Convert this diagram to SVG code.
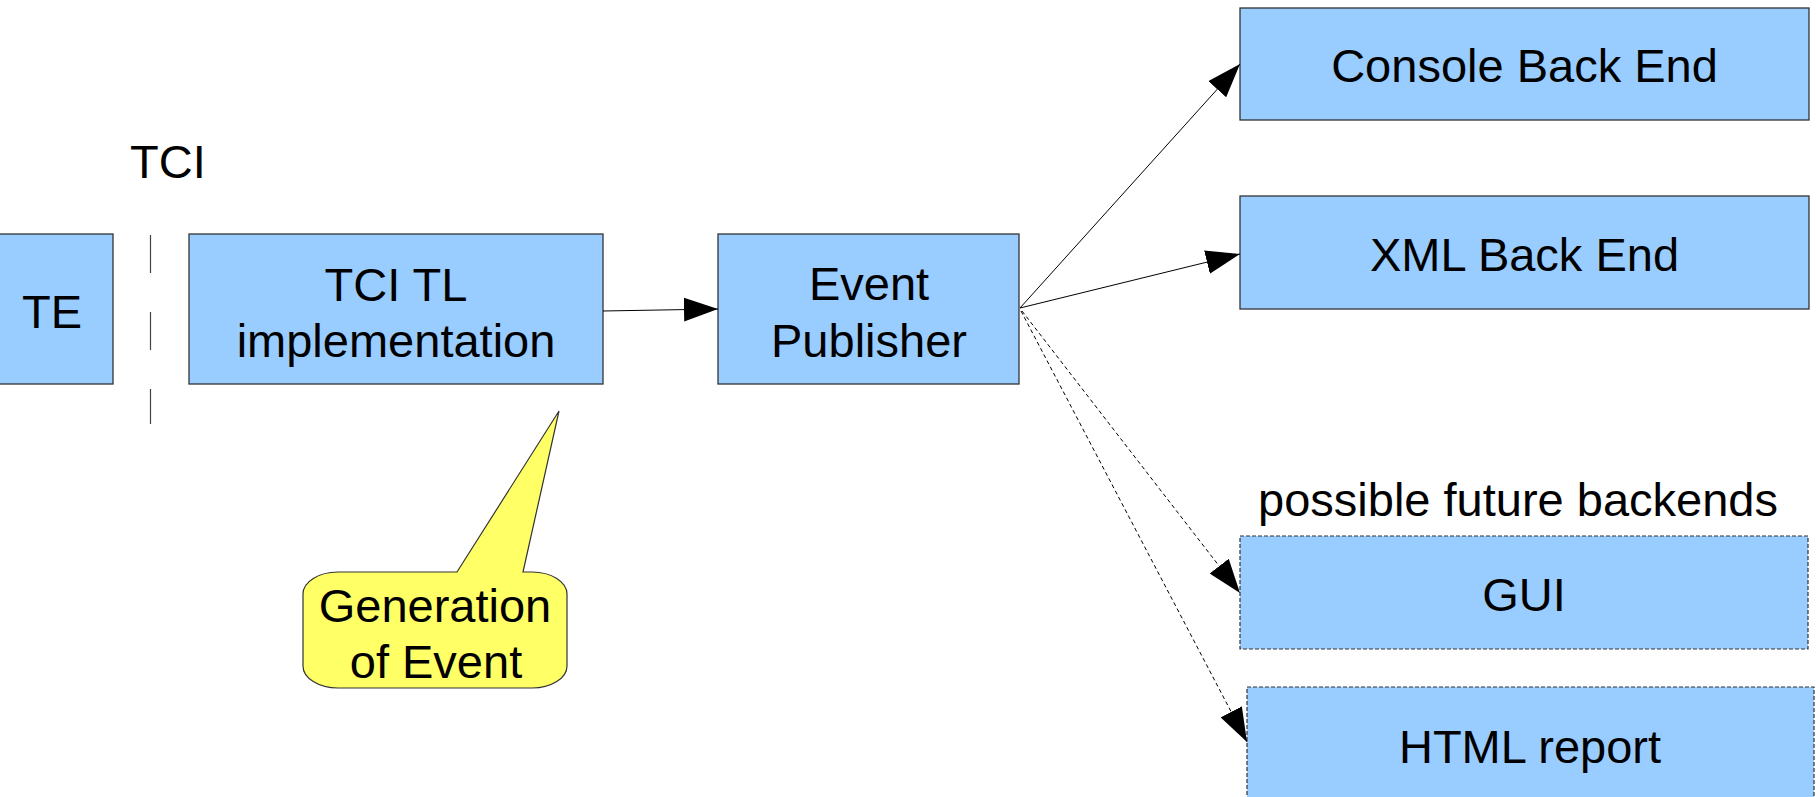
<svg xmlns="http://www.w3.org/2000/svg" width="1816" height="797" viewBox="0 0 1816 797">
<style>
.box{fill:#99ccff;stroke:#333;stroke-width:1.3}
.dbox{fill:#99ccff;stroke:#333;stroke-width:1.2;stroke-dasharray:4 2}
.t{font-family:"Liberation Sans",Arial,sans-serif;font-size:47px;fill:#000;text-anchor:middle}
.c{stroke:#000;stroke-width:1;fill:none}
.d{stroke:#000;stroke-width:1;fill:none;stroke-dasharray:4 3}
</style>
<defs>
<marker id="ah" viewBox="0 0 34 24" refX="34" refY="12" markerWidth="34" markerHeight="24" markerUnits="userSpaceOnUse" orient="auto">
<path d="M0,0 L34,12 L0,24 Z" fill="#000"/>
</marker>
</defs>
<rect width="1816" height="797" fill="#fff"/>
<g id="tci-label"><text class="t" x="130" y="178" style="text-anchor:start">TCI</text></g>
<g id="tci-line"><line x1="150.5" y1="235" x2="150.5" y2="424" stroke="#444" stroke-width="1.2" stroke-dasharray="38 39"/></g>
<g id="te"><rect class="box" x="-2" y="234" width="115" height="150"/><text class="t" x="52" y="328">TE</text></g>
<g id="tcitl"><rect class="box" x="189" y="234" width="414" height="150"/><text class="t" x="396" y="301">TCI TL</text><text class="t" x="396" y="357">implementation</text></g>
<g id="publisher"><rect class="box" x="718" y="234" width="301" height="150"/><text class="t" x="869" y="300">Event</text><text class="t" x="869" y="357">Publisher</text></g>
<g id="console"><rect class="box" x="1240" y="8" width="569" height="112"/><text class="t" x="1524.5" y="82">Console Back End</text></g>
<g id="xml"><rect class="box" x="1240" y="196" width="569" height="113"/><text class="t" x="1524.5" y="271">XML Back End</text></g>
<g id="future-label"><text class="t" x="1518" y="516">possible future backends</text></g>
<g id="gui"><rect class="dbox" x="1240" y="536" width="568" height="113"/><text class="t" x="1524" y="611">GUI</text></g>
<g id="html"><rect class="dbox" x="1247" y="687" width="567" height="120"/><text class="t" x="1530" y="763">HTML report</text></g>
<g id="callout">
<path d="M338,572 L457,572 L559,411 L523,572 L532,572 A35 22 0 0 1 567 594 L567 666 A35 22 0 0 1 532 688 L338 688 A35 22 0 0 1 303 666 L303 594 A35 22 0 0 1 338 572 Z" fill="#ffff66" stroke="#333" stroke-width="1.2"/>
<text class="t" x="435" y="622">Generation</text><text class="t" x="436" y="678">of Event</text>
</g>
<g id="connectors">
<line class="c" x1="603" y1="311" x2="718" y2="309" marker-end="url(#ah)"/>
<line class="c" x1="1020" y1="308" x2="1240" y2="64" marker-end="url(#ah)"/>
<line class="c" x1="1020" y1="308" x2="1240" y2="254" marker-end="url(#ah)"/>
<line class="d" x1="1022" y1="311" x2="1240" y2="593" marker-end="url(#ah)"/>
<line class="d" x1="1021" y1="311" x2="1247" y2="742" marker-end="url(#ah)"/>
</g>
</svg>
